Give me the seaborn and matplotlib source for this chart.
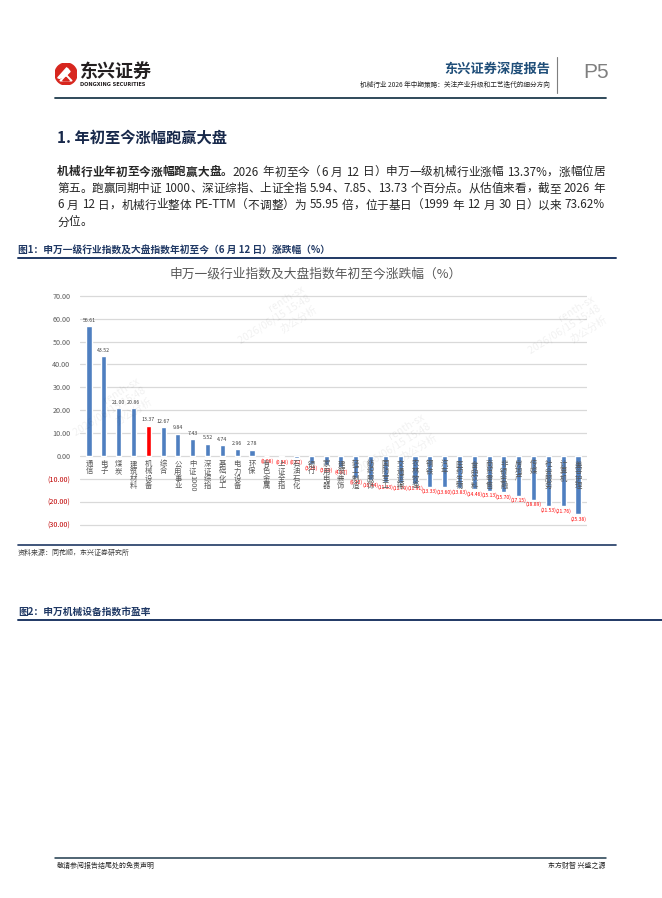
import re
import seaborn as sns
import matplotlib.pyplot as plt
from matplotlib.patches import Circle, Polygon

# ---- data ----
categories = ['通信', '电子', '煤炭', '建筑材料', '机械设备', '综合', '公用事业', '中证1000',
              '深证综指', '基础化工', '电力设备', '环保', '有色金属', '上证全指', '石油石化',
              '银行', '家用电器', '建筑装饰', '轻工制造', '纺织服饰', '国防军工', '交通运输',
              '农林牧渔', '钢铁', '汽车', '医药生物', '食品饮料', '商贸零售', '非银金融',
              '房地产', '传媒', '社会服务', '计算机', '美容护理']
values = [56.61, 43.52, 21.00, 20.86, 13.37, 12.67, 9.84, 7.43, 5.52, 4.74, 2.96, 2.78,
          -0.08, -0.36, -0.62, -3.28, -3.89, -4.87, -9.32, -10.44, -11.33, -11.79, -11.91,
          -13.33, -13.60, -13.83, -14.46, -15.13, -15.70, -17.15, -18.89, -21.53, -21.76, -25.38]
highlight = '机械设备'
yticks = [70, 60, 50, 40, 30, 20, 10, 0, -10, -20, -30]

chart_title = '申万一级行业指数及大盘指数年初至今涨跌幅（%）'
para = [
    [('机械行业年初至今涨幅跑赢大盘。', 'bold'),
     ('2026 年初至今（6 月 12 日）申万一级机械行业涨幅 13.37%，涨幅位居', 'normal')],
    [('第五。跑赢同期中证 1000、深证综指、上证全指 5.94、7.85、13.73 个百分点。从估值来看，截至 2026 年', 'normal')],
    [('6 月 12 日，机械行业整体 PE-TTM（不调整）为 55.95 倍，位于基日（1999 年 12 月 30 日）以来 73.62%', 'normal')],
    [('分位。', 'normal')],
]

sns.set_theme(style='white')
plt.rcParams['font.family'] = ['Noto Sans CJK SC', 'DejaVu Sans']
plt.rcParams['axes.unicode_minus'] = False

W, H = 662, 898
NAVY = '#1f3864'
BLUE = '#4f7fc0'
RED = '#ff0000'
GREY = '#595959'


def fx(x):
    return x / W


def fy(y):
    return 1 - y / H


fig = plt.figure(figsize=(W / 100, H / 100), dpi=100)
fig.patch.set_facecolor('white')
rend = fig.canvas.get_renderer()

# ---- page header ----
lg = fig.add_axes([fx(55), fy(85), 22 / W, 22 / H])
lg.set_xlim(-1, 1)
lg.set_ylim(-1, 1)
lg.set_aspect('equal')
lg.axis('off')
lg.add_patch(Circle((0, 0), 1, color='#d7261e'))
for k in range(3):
    d = 0.22 * k
    lg.add_patch(Polygon([(-0.75 + d, -0.35 + d * 0.3), (0.05 + d * 0.4, 0.55 - d * 0.5),
                          (0.2 + d * 0.4, 0.45 - d * 0.5), (-0.55 + d, -0.4 + d * 0.3)],
                         color='white'))
lg.add_patch(Polygon([(-0.55, -0.62), (0.0, -0.05), (0.55, -0.62)], color='white'))
lg.add_patch(Polygon([(-0.3, -0.62), (0.0, -0.3), (0.3, -0.62)], color='#d7261e'))

fig.text(fx(80), fy(71), '东兴证券', fontsize=13, fontweight='bold', color='#231f20',
         ha='left', va='center')
fig.text(fx(80), fy(84), 'DONGXING SECURITIES', fontsize=3.6, fontweight='bold',
         color='#231f20', ha='left', va='center', family='DejaVu Sans')
fig.text(fx(550), fy(68), '东兴证券深度报告', fontsize=9.5, fontweight='bold',
         color='#1f4e79', ha='right', va='center')
fig.text(fx(550), fy(85), '机械行业 2026 年中期策略：关注产业升级和工艺迭代的细分方向',
         fontsize=4.8, color='#262626', ha='right', va='center')
fig.add_artist(plt.Line2D([fx(557), fx(557)], [fy(57), fy(93)], color='#7f7f7f', lw=0.8))
fig.text(fx(583), fy(73), 'P5', fontsize=15, color='#7f7f7f', ha='left', va='center',
         family='Liberation Sans')
fig.add_artist(plt.Line2D([fx(55), fx(606)], [fy(98), fy(98)], color='#1f3b4d', lw=1.3))

# ---- section heading and paragraph ----
fig.text(fx(57), fy(138), '1. 年初至今涨幅跑赢大盘', fontsize=11, fontweight='bold',
         color='#17284a', ha='left', va='center')


def put_line(y, parts, x0=57, x1=None, size=8.4):
    toks = []
    for s, w in parts:
        for t in re.findall(r'[0-9A-Za-z.%\-]+| |.', s):
            toks.append((t, w))
    objs, widths = [], []
    for t, w in toks:
        if t == ' ':
            objs.append(None)
            widths.append(size * 0.28 * 100 / 72)
            continue
        o = fig.text(0, fy(y), t, fontsize=size, fontweight=w, color='#262626',
                     ha='left', va='center')
        objs.append(o)
        widths.append(o.get_window_extent(rend).width)
    gap = 0
    if x1 is not None:
        gap = (x1 - x0 - sum(widths)) / (len(toks) - 1)
    x = x0
    for o, wd in zip(objs, widths):
        if o is not None:
            o.set_x(fx(x))
        x += wd + gap


line_y = [172, 188.5, 205, 222]
for i, parts in enumerate(para):
    put_line(line_y[i], parts, x1=605 if i < 3 else None)

# ---- figure 1 caption ----
fig.text(fx(18), fy(250), '图1：申万一级行业指数及大盘指数年初至今（6 月 12 日）涨跌幅（%）',
         fontsize=7, fontweight='bold', color=NAVY, ha='left', va='center')
fig.add_artist(plt.Line2D([fx(18), fx(616)], [fy(257.5), fy(257.5)], color=NAVY, lw=1.4))

# ---- the chart ----
step = 14.82
x_left = 89 - 0.6 * step
x_right = 578 + 0.6 * step
ppu = 229.3 / 100  # pixels per percent
y_top = 295.7 - 2 * ppu
y_bot = 525 + 2 * ppu
ax = fig.add_axes([fx(x_left), fy(y_bot), (x_right - x_left) / W, (y_bot - y_top) / H])

colors = [RED if c == highlight else BLUE for c in categories]
sns.barplot(x=categories, y=values, hue=categories, palette=colors, legend=False,
            width=0.34, saturation=1, ax=ax)
ax.set_xlim(-0.6, len(categories) - 0.4)
ax.set_ylim(-32, 72)
ax.set_axisbelow(True)
ax.set_yticks(yticks)
ax.set_yticklabels([f'{v:.2f}' if v >= 0 else f'({abs(v):.2f})' for v in yticks])
for lab, v in zip(ax.get_yticklabels(), yticks):
    lab.set_color(GREY if v >= 0 else '#c00000')
    lab.set_fontsize(5.2)
ax.grid(axis='y', color='#d9d9d9', lw=0.9)
ax.grid(axis='x', visible=False)
ax.tick_params(axis='y', length=0, pad=7)
ax.tick_params(axis='x', length=0, labelbottom=False)
ax.set_xlabel('')
ax.set_ylabel('')
sns.despine(ax=ax, left=True, bottom=True)

for i, v in enumerate(values):
    if v >= 0:
        ax.annotate(f'{v:.2f}', (i, v), xytext=(0, 2.5), textcoords='offset points',
                    ha='center', va='bottom', fontsize=3.8, color='#404040')
    else:
        ax.annotate(f'({abs(v):.2f})', (i, v), xytext=(0, -1.5), textcoords='offset points',
                    ha='center', va='top', fontsize=3.6, color=RED)


def vlabel(i, text, size=5.3):
    off = -3.0
    for tok in re.findall(r'[0-9A-Za-z]+|.', text):
        if tok.isascii():
            ax.annotate(tok, (i, 0), xytext=(0, off), textcoords='offset points',
                        rotation=-90, ha='center', va='top', fontsize=size, color=GREY)
            off -= len(tok) * size * 0.56
        else:
            ax.annotate(tok, (i, 0), xytext=(0, off), textcoords='offset points',
                        ha='center', va='top', fontsize=size, color=GREY)
            off -= size * 0.96


for i, c in enumerate(categories):
    vlabel(i, c)

fig.text(fx(316), fy(274), chart_title, fontsize=9.2, color=GREY, ha='center', va='center')

# faint watermarks
for wx, wy in [(275, 320), (565, 330), (110, 412), (395, 448)]:
    fig.text(fx(wx), fy(wy), 'renth-sx\n2026/06/15 15:48\n办公分析', fontsize=7.5,
             color='#000000', alpha=0.06, rotation=32, ha='center', va='center',
             multialignment='right')

# ---- source and figure 2 caption ----
fig.add_artist(plt.Line2D([fx(18), fx(616)], [fy(545), fy(545)], color=NAVY, lw=1.2))
fig.text(fx(18), fy(553), '资料来源：同花顺，东兴证券研究所', fontsize=5, style='italic',
         color='#404040', ha='left', va='center')
fig.text(fx(18), fy(612), '图2：申万机械设备指数市盈率', fontsize=7, fontweight='bold',
         color=NAVY, ha='left', va='center')
fig.add_artist(plt.Line2D([fx(18), fx(662)], [fy(620), fy(620)], color=NAVY, lw=1.4))

# ---- footer ----
fig.add_artist(plt.Line2D([fx(55), fx(606)], [fy(858), fy(858)], color='#1f3b4d', lw=1.1))
fig.text(fx(57), fy(866), '敬请参阅报告结尾处的免责声明', fontsize=5, color='#262626',
         ha='left', va='center')
fig.text(fx(605), fy(866), '东方财智 兴盛之源', fontsize=5, color='#262626',
         ha='right', va='center')

fig.savefig('out.png', dpi=100)
